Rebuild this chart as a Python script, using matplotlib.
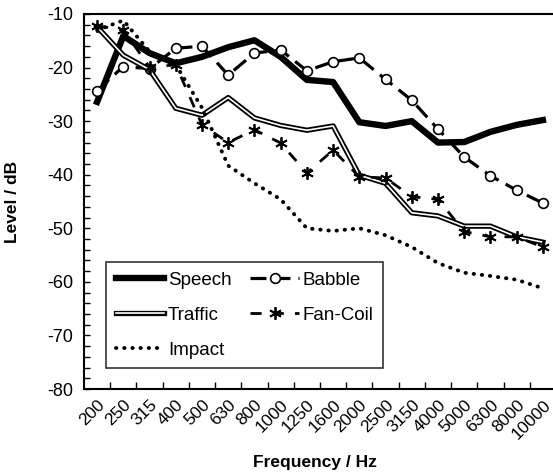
import numpy as np
import matplotlib
matplotlib.use("Agg")
import matplotlib.pyplot as plt
import matplotlib.patheffects as pe
from matplotlib.ticker import FixedLocator, MultipleLocator, NullFormatter

plt.rcParams['font.family'] = ['Liberation Sans', 'DejaVu Sans']
plt.rcParams['axes.unicode_minus'] = False

freqs = ["200", "250", "315", "400", "500", "630", "800", "1000", "1250", "1600",
         "2000", "2500", "3150", "4000", "5000", "6300", "8000", "10000"]

speech = [-26.4, -14.1, -17.3, -19.2, -18.0, -16.2, -14.9, -18.0, -22.3, -22.7,
          -30.2, -30.9, -30.0, -34.0, -33.9, -32.0, -30.7, -29.8]
babble = [-24.3, -19.8, -20.2, -16.4, -16.0, -21.4, -17.3, -16.7, -20.6, -18.9,
          -18.2, -22.2, -26.1, -31.5, -36.7, -40.2, -42.9, -45.3]
traffic = [-12.4, -17.7, -20.4, -27.6, -28.9, -25.6, -29.4, -30.8, -31.7, -30.9,
           -40.1, -41.6, -47.1, -47.7, -49.6, -49.6, -51.6, -52.6]
fancoil = [-12.2, -13.0, -19.9, -19.5, -30.7, -34.0, -31.6, -34.1, -39.7, -35.4,
           -40.4, -40.6, -44.1, -44.6, -50.6, -51.6, -51.6, -53.5]
impact = [-13.0, -11.2, -17.0, -19.5, -27.5, -38.3, -41.6, -44.6, -50.0, -50.5,
          -50.0, -51.3, -53.5, -56.5, -58.3, -58.9, -59.6, -61.2]

x = np.arange(len(freqs))

fig = plt.figure(figsize=(5.53, 4.74), dpi=100)
ax = fig.add_axes([84/553, 1 - 389/474, (556 - 84)/553, (389 - 14)/474])

l_sp, = ax.plot(x, speech, color='black', lw=4.6, label='Speech')
l_ba, = ax.plot(x, babble, color='black', lw=2.3, ls=(0, (5, 2.5)), marker='o', ms=7,
                mfc='white', mec='black', mew=1.2, label='Babble')
l_tr, = ax.plot(x, traffic, color='white', lw=1.2, label='Traffic',
                path_effects=[pe.Stroke(linewidth=3.8, foreground='black'), pe.Normal()])
l_fc, = ax.plot(x, fancoil, color='black', lw=2.0, ls=(0, (4, 4)), marker=(6, 2, 0),
                ms=9, mew=1.3, label='Fan-Coil')
l_im, = ax.plot(x, impact, color='black', lw=2.8, ls=(0, (0.1, 2.0)),
                dash_capstyle='round', label='Impact')

ax.set_xlim(-0.5, len(freqs) - 0.5)
ax.set_ylim(-80, -10)
ax.yaxis.set_major_locator(MultipleLocator(10))
ax.yaxis.set_minor_locator(MultipleLocator(2))
ax.tick_params(axis='y', which='both', direction='in', length=4, width=1,
               labelsize=13, pad=8)

ax.xaxis.set_major_locator(FixedLocator(x[:-1] + 0.5))
ax.xaxis.set_major_formatter(NullFormatter())
ax.set_xticks(x, freqs, minor=True)
ax.tick_params(axis='x', which='major', direction='in', length=5, width=1)
ax.tick_params(axis='x', which='minor', length=0, labelsize=12.5, pad=6)
for lab in ax.get_xticklabels(minor=True):
    lab.set_rotation(45)
    lab.set_ha('right')
    lab.set_va('top')
    lab.set_rotation_mode('anchor')

for s in ['left', 'bottom', 'top']:
    ax.spines[s].set_linewidth(1.5)
ax.spines['right'].set_visible(False)

ax.set_ylabel('Level / dB', fontsize=12.5, fontweight='bold')
ax.yaxis.set_label_coords(-(84 - 20)/472, 0.5)
ax.set_xlabel('Frequency / Hz', fontsize=12.5, fontweight='bold')
ax.xaxis.set_label_coords((315 - 84)/472, -0.175)

handles = [l_sp, l_tr, l_im, l_ba, l_fc]
leg = ax.legend(handles=handles, loc='lower left', bbox_to_anchor=(0.047, 0.056),
                ncol=2, fontsize=13.5, frameon=True, fancybox=False, handlelength=2.6,
                borderaxespad=0, columnspacing=1.0, handletextpad=0.2,
                labelspacing=0.95, borderpad=0.5)
leg.get_frame().set_edgecolor('black')
leg.get_frame().set_linewidth(1.2)

fig.savefig('out.png', dpi=100)
